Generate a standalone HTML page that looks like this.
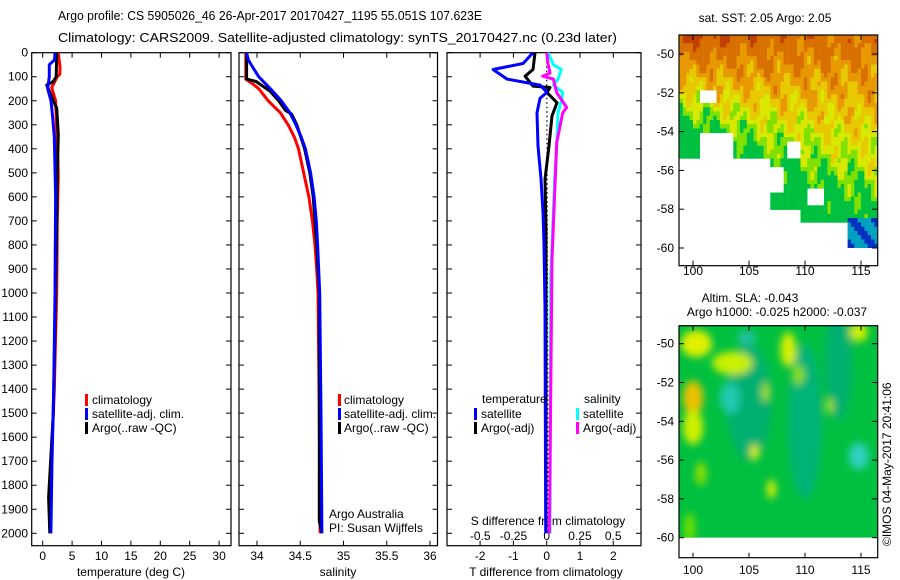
<!DOCTYPE html>
<html><head><meta charset="utf-8"><style>
body{margin:0;background:#fff;}
svg{display:block;font-family:"Liberation Sans",sans-serif;}
</style></head><body>
<svg id="c" width="900" height="580" viewBox="0 0 900 580" xmlns="http://www.w3.org/2000/svg">
<defs>
<filter id="blur" x="-50%" y="-50%" width="200%" height="200%"><feGaussianBlur stdDeviation="4"/></filter>
<clipPath id="clipLow"><rect x="679" y="325.7" width="198" height="212"/></clipPath>
<clipPath id="clipUp"><rect x="679" y="35" width="198" height="213"/></clipPath>
</defs>
<rect width="900" height="580" fill="#fff"/>
<text x="58" y="20" font-size="13" textLength="424" lengthAdjust="spacingAndGlyphs">Argo profile: CS 5905026_46 26-Apr-2017 20170427_1195 55.051S 107.623E</text>
<text x="58" y="42" font-size="13" textLength="559" lengthAdjust="spacingAndGlyphs">Climatology: CARS2009. Satellite-adjusted climatology: synTS_20170427.nc (0.23d later)</text>
<g id="panels"></g>
<g id="maps"></g>
</svg>
<script>
// ---------- profile data ----------
const tempDepthClim = [0,60,90,100,145,200,500,700,1000,1400,1700,2000];
const tempClim      = [2.65,2.94,2.9,2.48,1.53,2.2,2.65,2.48,2.38,1.97,1.48,1.3];
const tempDepthSat  = [0,30,50,100,150,200,270,350,600,1000,1400,1700,2000];
const tempSat       = [2.09,2.0,1.12,1.12,0.85,1.41,1.7,1.97,2.2,2.09,1.87,1.58,1.39];
const tempDepthArgo = [0,100,120,135,160,210,230,340,500,1000,1500,1850,2000];
const tempArgo      = [2.38,2.3,1.8,0.68,1.12,1.97,2.38,2.65,2.5,2.2,1.8,1.0,1.2];

const salDepthClim = [0,110,130,150,200,250,300,350,400,500,600,700,800,900,1000,1500,2000];
const salClim      = [33.87,33.87,33.95,34.02,34.13,34.27,34.36,34.43,34.48,34.54,34.6,34.64,34.67,34.69,34.705,34.72,34.73];
const salDepthSat  = [0,30,60,100,130,160,200,250,300,350,400,500,600,700,800,1000,1500,2000];
const salSat       = [33.88,33.9,33.95,34.02,34.1,34.18,34.28,34.38,34.45,34.51,34.56,34.62,34.66,34.685,34.7,34.725,34.74,34.75];
const salDepthArgo = [0,110,120,160,200,240,255,300,400,500,600,800,1000,1950,2000];
const salArgo      = [33.88,33.88,33.99,34.15,34.25,34.33,34.4,34.46,34.55,34.61,34.65,34.69,34.72,34.72,34.75];

const dTDepthSat  = [0,45,70,110,135,165,190,250,388,525,664,800,1060,2000];
const dTSat       = [-0.41,-0.71,-1.61,-1.19,-0.2,0.01,-0.2,-0.29,-0.26,-0.17,-0.11,-0.08,-0.05,-0.03];
const dTDepthArgo = [0,70,98,139,145,166,208,263,388,527,735,2000];
const dTArgo      = [-0.35,-0.41,-0.65,-0.41,0.1,0.01,0.31,0.16,0.07,-0.05,-0.02,-0.02];
const dSDepthSat  = [0,50,70,110,135,165,190,250,388,525,664,940,2000];
const dSSat       = [0.01,0.05,0.11,0.085,0.05,0.12,0.115,0.085,0.075,0.06,0.05,0.03,0.025];
const dSDepthArgo = [0,45,85,98,110,166,228,250,375,583,860,2000];
const dSArgo      = [0,0.01,0.025,-0.03,0.05,0.075,0.15,0.12,0.075,0.06,0.04,0.02];

const depthTicks = [0,100,200,300,400,500,600,700,800,900,1000,1100,1200,1300,1400,1500,1600,1700,1800,1900,2000];
const tempTicks = [0,5,10,15,20,25,30];
const salTicks = [34,34.5,35,35.5,36];
const salTickLabels = ["34","34.5","35","35.5","36"];
const dTTicks = [-2,-1,0,1,2];
const dSTicks = [-0.5,-0.25,0,0.25,0.5];
const dSTickLabels = ["-0.5","-0.25","0","0.25","0.5"];

const NS='http://www.w3.org/2000/svg';
function mk(tag, attrs, parent){const e=document.createElementNS(NS,tag);for(const k in attrs)e.setAttribute(k,attrs[k]);if(parent)parent.appendChild(e);return e;}
const yD = d => 52.7 + d*0.2403;
const xT = v => 42.7 + v*5.88;
const xS = v => 257 + (v-34)*86.5;
const xDT = v => 546.7 + v*33.3;
const xDS = v => 546.7 + v*133;
const yTop=52.7, yBot=545.7;
const G=document.getElementById('panels');

function frame(x0,x1,name){
  const f=mk('rect',{x:x0,y:yTop,width:x1-x0,height:yBot-yTop,fill:'none',stroke:'#000','stroke-width':1.2},G);
  
  
  depthTicks.forEach(d=>{mk('line',{x1:x0,x2:x0+5,y1:yD(d),y2:yD(d),stroke:'#000'},G);mk('line',{x1:x1-5,x2:x1,y1:yD(d),y2:yD(d),stroke:'#000'},G);});
}
function xticks(vals,labels,fx,ly,name){
  vals.forEach((v,i)=>{const x=fx(v);
    mk('line',{x1:x,x2:x,y1:yBot,y2:yBot-5,stroke:'#000'},G);
    mk('line',{x1:x,x2:x,y1:yTop,y2:yTop+5,stroke:'#000'},G);
    const t=mk('text',{x:x,y:ly,'font-size':12,'text-anchor':'middle'},G);t.textContent=labels[i];
    
    
  });
}
function line(ds,vs,fx,color,w,name){
  const pts=ds.map((d,i)=>fx(vs[i]).toFixed(1)+','+yD(d).toFixed(1)).join(' ');
  const p=mk('polyline',{points:pts,fill:'none',stroke:color,'stroke-width':w,'stroke-linejoin':'round'},G);
  
  
}
function label(x,y,txt,name,anchor,size){
  const t=mk('text',{x:x,y:y,'font-size':size||12,'text-anchor':anchor||'start'},G);t.textContent=txt;
  
  
}
function legBar(x,y,color,name){
  const r=mk('rect',{x:x,y:y-11,width:3,height:12,fill:color},G);
  
  
}

depthTicks.forEach(d=>{label(28,yD(d)+4,String(d),'depth-tick-label','end',12);});

// panel 1 temperature
frame(31.7,231,'temperature-panel');
xticks(tempTicks,tempTicks.map(String),xT,560,'temperature-tick-label');
line(tempDepthClim,tempClim,xT,'#ff0000',3,'temp-climatology-line');
line(tempDepthArgo,tempArgo,xT,'#000',3,'temp-argo-line');
line(tempDepthSat,tempSat,xT,'#0000ff',3,'temp-satellite-line');
label(131,576,'temperature (deg C)','temperature-axis-title','middle');
legBar(85,405,'#ff0000','legend-climatology-swatch');label(92,404,'climatology','legend-climatology');
legBar(85,419,'#0000ff','legend-satellite-swatch');label(92,418,'satellite-adj. clim.','legend-satellite');
legBar(85,433,'#000','legend-argo-swatch');label(92,432,'Argo(..raw -QC)','legend-argo');

// panel 2 salinity
frame(239,437.5,'salinity-panel');
xticks(salTicks,salTickLabels,xS,560,'salinity-tick-label');
line(salDepthClim,salClim,xS,'#ff0000',3,'sal-climatology-line');
line(salDepthArgo,salArgo,xS,'#000',3,'sal-argo-line');
line(salDepthSat,salSat,xS,'#0000ff',3,'sal-satellite-line');
label(338,576,'salinity','salinity-axis-title','middle');
legBar(338,405,'#ff0000','legend2-climatology-swatch');label(344,404,'climatology','legend2-climatology');
legBar(338,419,'#0000ff','legend2-satellite-swatch');label(344,418,'satellite-adj. clim.','legend2-satellite');
legBar(338,433,'#000','legend2-argo-swatch');label(344,432,'Argo(..raw -QC)','legend2-argo');
label(329,518,'Argo Australia','argo-australia-label');
label(329,532,'PI: Susan Wijffels','pi-label');

// panel 3 differences
frame(447,641,'difference-panel');
xticks(dTTicks,dTTicks.map(String),xDT,560,'tdiff-tick-label');
dSTicks.forEach((v,i)=>{label(xDS(v),540,dSTickLabels[i],'sdiff-tick-label','middle');});
label(548,525,'S difference from climatology','sdiff-axis-title','middle');
label(546,576,'T difference from climatology','tdiff-axis-title','middle');
const dz=mk('line',{x1:xDT(0),x2:xDT(0)+1.5,y1:yD(0),y2:yD(2000),stroke:'#000','stroke-width':1.2,'stroke-dasharray':'1.5,3'},G);


line(dSDepthSat,dSSat,xDS,'#00ffff',3,'sdiff-satellite-line');
line(dSDepthArgo,dSArgo,xDS,'#ff00ff',3,'sdiff-argo-line');
line(dTDepthArgo,dTArgo,xDT,'#000',3,'tdiff-argo-line');
line(dTDepthSat,dTSat,xDT,'#0000ff',3,'tdiff-satellite-line');
label(482,403,'temperature','legend3-temperature');
label(584,403,'salinity','legend3-salinity');
legBar(474,419,'#0000ff','legend3-tsat-swatch');label(481,418,'satellite','legend3-tsat');
legBar(474,433,'#000','legend3-targo-swatch');label(481,432,'Argo(-adj)','legend3-targo');
legBar(576,419,'#00ffff','legend3-ssat-swatch');label(583,418,'satellite','legend3-ssat');
legBar(576,433,'#ff00ff','legend3-sargo-swatch');label(583,432,'Argo(-adj)','legend3-sargo');

// ---------- maps ----------
const M=document.getElementById('maps');
const lonX = lon => 693 + (lon-100)*11.2;
const latYu = lat => 54 + (-50-lat)*19.4;
const latYl = lat => 343.7 + (-50-lat)*19.4;
function mtext(x,y,t,name,anchor){const e=mk('text',{x:x,y:y,'font-size':12,'text-anchor':anchor||'middle'},M);e.textContent=t;}

const gu=mk('g',{'clip-path':'url(#clipUp)'},M);


function sstColor(v){
  if(v>2.2) return '#c04000';
  if(v>1.4) return '#d87000';
  if(v>0.9) return '#e89800';
  if(v>0.4) return '#e8c800';
  if(v>0.0) return '#d8e800';
  if(v>-0.4) return '#80e000';
  if(v>-2.2) return '#00c040';
  return '#00b070';
}
function masked(lon,lat){
  if(lat<-60) return true;
  if(lat<-55.3 && lon<106.8 && !(lon>104.5&&lon<105.2&&lat<-58&&lat>-58.6) && !(lon>101.5&&lon<102.5&&lat<-55.5&&lat>-56)) return true;
  if(lon<103.5 && lat<-54 && lon>100.3) return true;
  if(lat<-58 && lon<109.5) return true;
  if(lat<-58.5 && lon<113.5 && lon>108) return true;
  if(lat<-51.7&&lat>-52.5&&lon<102&&lon>100.3) return true;
  if(lon>108.2&&lon<109.5&&lat<-54.4&&lat>-55.3) return true;
  if(lon>110&&lon<111.5&&lat<-56.9&&lat>-57.6) return true;
  if(lon>106.5&&lon<108&&lat<-55.8&&lat>-57) return true;
  return false;
}
for(let lon=98.8;lon<116.6;lon+=0.3){
  for(let lat=-49;lat>-61;lat-=0.22){
    if(masked(lon,lat)) continue;
    const b=-52.6-(lon-100)*0.2;
    const w=1.6+(lon-100)*0.15;
    let v=(lat-b)/w+0.35*Math.sin(lon*2.3+lat*1.7)+0.25*Math.sin(lon*5.1-lat*3.3);
    let col=sstColor(v);
    if(lon>113.5&&lat<-58.3&&lat>-60) col=(Math.sin(lon*3+lat*4)>0)?'#0030c0':'#00a0c0';
    mk('rect',{x:lonX(lon).toFixed(1),y:latYu(lat).toFixed(1),width:3.6,height:4.6,fill:col},gu);
  }
}
const fu=mk('rect',{x:679,y:35,width:198.7,height:230.7,fill:'none',stroke:'#000','stroke-width':1.2},M);


mtext(765,22,'sat. SST: 2.05 Argo: 2.05','sst-map-title');
[-50,-52,-54,-56,-58,-60].forEach(l=>{mk('line',{x1:679,x2:684,y1:latYu(l),y2:latYu(l),stroke:'#000'},M);mk('line',{x1:872,x2:877.7,y1:latYu(l),y2:latYu(l),stroke:'#000'},M);mtext(674,latYu(l)+4,String(l),'sst-lat-label','end');});
[100,105,110,115].forEach(l=>{mk('line',{x1:lonX(l),x2:lonX(l),y1:265.7,y2:260.7,stroke:'#000'},M);mk('line',{x1:lonX(l),x2:lonX(l),y1:35,y2:40,stroke:'#000'},M);mtext(lonX(l),275,String(l),'sst-lon-label');});

const gl=mk('g',{'clip-path':'url(#clipLow)'},M);


mk('rect',{x:679,y:325.7,width:198,height:212,fill:'#00c040'},gl);
const gb=mk('g',{filter:'url(#blur)'},gl);
const blobs=[[105,-53,2,3,'#00b070'],[110,-54,1.5,4,'#00b478'],[113,-51,1.2,3,'#00b070'],[100.3,-50,1.4,0.7,'#e0f000'],[103.5,-51,1.8,0.6,'#c8f000'],[100,-52.8,0.9,0.9,'#f0c000'],[100,-54.3,0.9,0.9,'#d0f000'],[108.5,-50.3,0.7,0.9,'#d8f000'],[114.8,-49.4,0.8,0.5,'#d0f000'],[105.5,-55.6,0.4,0.4,'#e0f000'],[107,-57.5,0.4,0.5,'#e0f000'],[100.7,-56.7,0.5,0.6,'#90e000'],[109.4,-51.6,0.5,0.5,'#90e000'],[112.2,-53.2,0.3,0.4,'#b0e800'],[106.5,-52.5,0.3,0.5,'#b0e800'],[103.3,-52.8,0.9,0.8,'#20c8b0'],[114.8,-55.8,0.9,0.7,'#30d0c0'],[104.8,-49.7,0.8,0.4,'#20c0a0'],[99.7,-59.5,0.5,0.8,'#70e000']];
blobs.forEach(b=>{mk('ellipse',{cx:lonX(b[0]),cy:latYl(b[1]),rx:b[2]*11.2,ry:b[3]*19.4,fill:b[4]},gb);});
const fl=mk('rect',{x:679,y:325.7,width:198.7,height:232,fill:'none',stroke:'#000','stroke-width':1.2},M);


mtext(750,302,'Altim. SLA: -0.043','sla-map-title');
mtext(777,316,'Argo h1000: -0.025 h2000: -0.037','sla-map-subtitle');
[-50,-52,-54,-56,-58,-60].forEach(l=>{mk('line',{x1:679,x2:684,y1:latYl(l),y2:latYl(l),stroke:'#000'},M);mk('line',{x1:872,x2:877.7,y1:latYl(l),y2:latYl(l),stroke:'#000'},M);mtext(674,latYl(l)+4,String(l),'sla-lat-label','end');});
[100,105,110,115].forEach(l=>{mk('line',{x1:lonX(l),x2:lonX(l),y1:557.7,y2:552.7,stroke:'#000'},M);mk('line',{x1:lonX(l),x2:lonX(l),y1:325.7,y2:330.7,stroke:'#000'},M);mtext(lonX(l),574,String(l),'sla-lon-label');});
const cr=mk('text',{x:0,y:0,'font-size':12,transform:'translate(891,546) rotate(-90)'},M);
cr.textContent='©IMOS 04-May-2017 20:41:06';


</script>
</body></html>
